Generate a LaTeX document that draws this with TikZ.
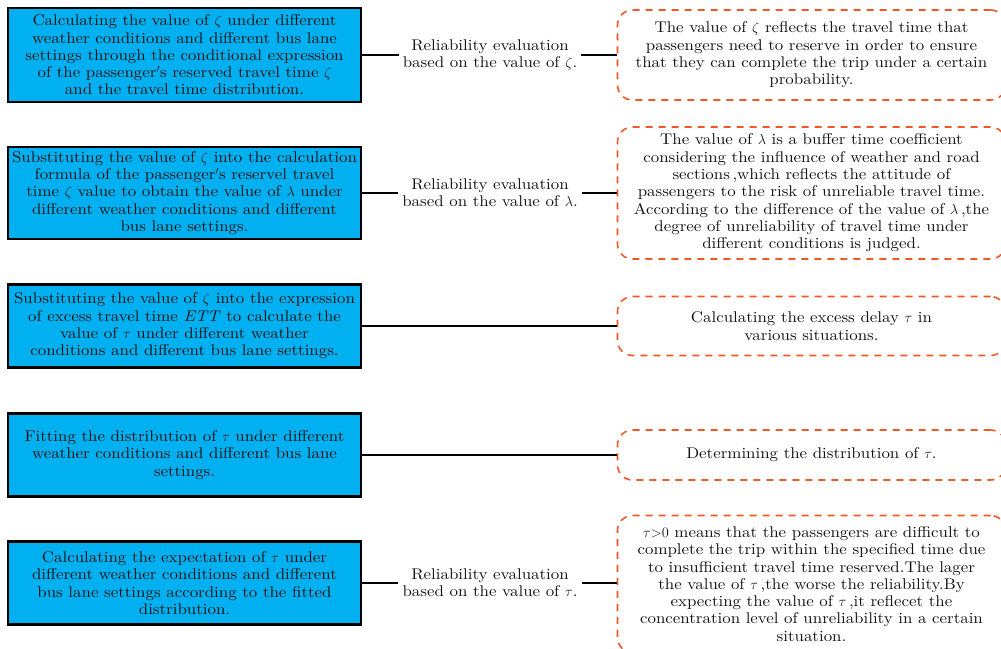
\documentclass[tikz,border=0pt]{standalone}
\usepackage{amsmath}
\usepackage{amssymb}
\usepackage{xcolor}
\usepackage{fontspec}
\setmainfont{lmroman10-regular.otf}[FakeStretch=1.09, ItalicFont=lmroman10-italic.otf]
\definecolor{stepblue}{RGB}{0,176,240}
\definecolor{noteorange}{RGB}{240,88,40}
\definecolor{inkgray}{RGB}{20,18,19}

\begin{document}
\begin{tikzpicture}[x=1pt,y=-1pt]
	\tikzstyle{every node}+=[inner sep=0pt, align=center, text=inkgray, font=\fontsize{15.5}{17.3}\selectfont]
	\tikzstyle{stage}=[draw=black, line width=2.2pt, fill=stepblue, minimum width=353pt]
	\tikzstyle{note}=[draw=noteorange, line width=1.6pt, dash pattern=on 7pt off 6pt, rounded corners=15pt, minimum width=388pt]
	\tikzstyle{evaluation}=[inner xsep=4pt]
	\tikzstyle{link}=[black, line width=1.8pt]
	\useasboundingbox (0,0) rectangle (1001,648);
	\node [stage, minimum height=94pt] (s1) at (184.5,55) {Calculating the value of $\zeta$ under different\\weather conditions and different bus lane\\settings through the conditional expression\\of the passenger$'$s reserved travel time $\zeta$\\and the travel time distribution.};
	\node [stage, minimum height=92pt] (s2) at (184.5,193) {Substituting the value of $\zeta$ into the calculation\\formula of the passenger$'$s reservel travel\\time $\zeta$ value to obtain the value of $\lambda$ under\\different weather conditions and different\\bus lane settings.};
	\node [stage, minimum height=83pt] (s3) at (184.5,326) {Substituting the value of $\zeta$ into the expression\\of excess travel time \textit{ETT} to calculate the\\value of $\tau$ under different weather\\conditions and different bus lane settings.};
	\node [stage, minimum height=83pt] (s4) at (184.5,455) {Fitting the distribution of $\tau$ under different\\weather conditions and different bus lane\\settings.};
	\node [stage, minimum height=83pt] (s5) at (184.5,583) {Calculating the expectation of $\tau$ under\\different weather conditions and different\\bus lane settings according to the fitted\\distribution.};
	\node [evaluation] (e1) at (490,55) {Reliability evaluation\\based on the value of $\zeta$.};
	\node [evaluation] (e2) at (490,193) {Reliability evaluation\\based on the value of $\lambda$.};
	\node [evaluation] (e5) at (490,583) {Reliability evaluation\\based on the value of $\tau$.};
	\node [note, minimum height=90pt] (n1) at (811.5,55) {The value of $\zeta$ reflects the travel time that\\passengers need to reserve in order to ensure\\that they can complete the trip under a certain\\probability.};
	\node [note, minimum height=132pt] (n2) at (811.5,193) {The value of $\lambda$ is a buffer time coefficient\\considering the influence of weather and road\\sections\,,which reflects the attitude of\\passengers to the risk of unreliable travel time.\\According to the difference of the value of $\lambda$\,,the\\degree of unreliability of travel time under\\different conditions is judged.};
	\node [note, minimum height=59pt] (n3) at (811.5,326) {Calculating the excess delay $\tau$ in\\various situations.};
	\node [note, minimum height=50pt] (n4) at (811.5,455) {Determining the distribution of $\tau$.};
	\node [note, minimum height=137pt] (n5) at (811.5,584) {$\tau{>}0$ means that the passengers are difficult to\\complete the trip within the specified time due\\to insufficient travel time reserved.The lager\\the value of $\tau$\,,the worse the reliability.By\\expecting the value of $\tau$\,,it reflecet the\\concentration level of unreliability in a certain\\situation.};
	\draw [link] (s1.east) -- (e1.west);
	\draw [link] (e1.east) -- (e1.east -| n1.west);
	\draw [link] (s2.east) -- (e2.west);
	\draw [link] (e2.east) -- (e2.east -| n2.west);
	\draw [link] (s3.east) -- (s3.east -| n3.west);
	\draw [link] (s4.east) -- (s4.east -| n4.west);
	\draw [link] (s5.east) -- (e5.west);
	\draw [link] (e5.east) -- (e5.east -| n5.west);
\end{tikzpicture}
\end{document}
